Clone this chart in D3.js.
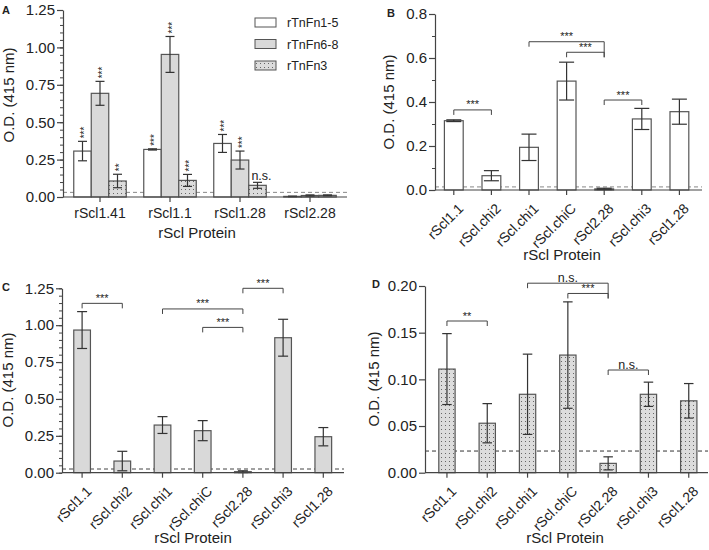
<!DOCTYPE html>
<html>
<head>
<meta charset="utf-8">
<script src="https://cdn.jsdelivr.net/npm/d3@7"></script>
<style>
  body { margin: 0; background: #fff; }
  text { font-family: "Liberation Sans", Arial, sans-serif; fill: #222; }
</style>
</head>
<body>
<script>
// ---- data ----
const groupsA = ["rScl1.41", "rScl1.1", "rScl1.28", "rScl2.28"];
const seriesA = ["rTnFn1-5", "rTnFn6-8", "rTnFn3"];
const meanA = [
  [0.307, 0.318, 0.358, 0.004],
  [0.693, 0.953, 0.247, 0.010],
  [0.107, 0.111, 0.078, 0.011]
];
const errA = [
  [0.065, 0.004, 0.060, 0.002],
  [0.080, 0.120, 0.060, 0.004],
  [0.045, 0.040, 0.020, 0.003]
];
const sigA = [
  ["***", "***", "***", ""],
  ["***", "***", "***", ""],
  ["**", "***", "n.s.", ""]
];
const cutoffA = 0.031;

const proteins = ["rScl1.1", "rScl.chi2", "rScl.chi1", "rScl.chiC", "rScl2.28", "rScl.chi3", "rScl1.28"];

const meanB = [0.315, 0.065, 0.194, 0.495, 0.005, 0.323, 0.356];
const errB = [0.004, 0.023, 0.060, 0.086, 0.003, 0.048, 0.057];
const cutoffB = 0.014;
const bracketsB = [
  ["rScl1.1", "rScl.chi2", 0.364, "***"],
  ["rScl.chi1", "rScl2.28", 0.674, "***"],
  ["rScl.chiC", "rScl2.28", 0.626, "***"],
  ["rScl2.28", "rScl.chi3", 0.409, "***"]
];

const meanC = [0.967, 0.079, 0.323, 0.285, 0.007, 0.915, 0.244];
const errC = [0.125, 0.066, 0.057, 0.068, 0.006, 0.125, 0.062];
const cutoffC = 0.025;
const bracketsC = [
  ["rScl1.1", "rScl.chi2", 1.148, "***"],
  ["rScl.chi1", "rScl2.28", 1.11, "***"],
  ["rScl.chiC", "rScl2.28", 0.985, "***"],
  ["rScl2.28", "rScl.chi3", 1.25, "***"]
];

const meanD = [0.111, 0.053, 0.084, 0.126, 0.010, 0.084, 0.077];
const errD = [0.038, 0.021, 0.043, 0.057, 0.007, 0.013, 0.0185];
const cutoffD = 0.0232;
const bracketsD = [
  ["rScl1.1", "rScl.chi2", 0.1625, "**"],
  ["rScl.chi1", "rScl2.28", 0.203, "n.s."],
  ["rScl.chiC", "rScl2.28", 0.192, "***"],
  ["rScl2.28", "rScl.chi3", 0.11, "n.s."]
];

const ticks025 = [0, 0.25, 0.5, 0.75, 1, 1.25];
const minor005 = d3.range(0, 1.2501, 0.05);
const ticksB = [0, 0.2, 0.4, 0.6, 0.8];
const minorB = d3.range(0, 0.801, 0.1);
const ticksD = [0, 0.05, 0.1, 0.15, 0.2];

// ---- setup ----
const svg = d3.select("body").append("svg").attr("width", 709).attr("height", 550);

const pat = svg.append("defs").append("pattern")
  .attr("id", "dots").attr("width", 4).attr("height", 4)
  .attr("patternUnits", "userSpaceOnUse");
pat.append("rect").attr("width", 4).attr("height", 4).attr("fill", "#dcdcdc");
pat.append("rect").attr("x", 1).attr("y", 1).attr("width", 1).attr("height", 1).attr("fill", "#666");

const fillOf = { "rTnFn1-5": "#fff", "rTnFn6-8": "#d9d9d9", "rTnFn3": "url(#dots)" };
const ink = "#444";

// axes shared by all panels
function drawAxes(g, x, y, o) {
  g.append("g")
    .attr("transform", `translate(${o.left},0)`)
    .call(d3.axisLeft(y).tickValues(o.ticks).tickFormat(d3.format(o.fmt)).tickSize(6).tickSizeOuter(0))
    .call(a => a.attr("font-family", null).attr("font-size", 15))
    .call(a => a.selectAll("path,line").attr("stroke", ink).attr("stroke-width", 1.2))
    .call(a => a.selectAll(".tick text").attr("x", -8));

  if (o.minor) {
    g.append("g")
      .attr("transform", `translate(${o.left},0)`)
      .call(d3.axisLeft(y).tickValues(o.minor).tickFormat("").tickSize(3))
      .call(a => a.select(".domain").remove())
      .call(a => a.selectAll("line").attr("stroke", ink));
  }

  const xa = g.append("g")
    .attr("transform", `translate(0,${y(0)})`)
    .call(d3.axisBottom(x).tickSize(5).tickSizeOuter(0))
    .call(a => a.attr("font-family", null).attr("font-size", 14))
    .call(a => a.select(".domain").remove())
    .call(a => a.selectAll("line").attr("stroke", ink).attr("stroke-width", 1.2));

  if (o.rotate) {
    xa.selectAll(".tick text")
      .attr("x", 0).attr("y", 0).attr("dy", "0.75em")
      .attr("text-anchor", "end")
      .attr("transform", "translate(3,12) rotate(-45)");
  } else {
    xa.selectAll(".tick text").attr("y", 11);
  }

  g.append("line")
    .attr("x1", o.left).attr("x2", o.right)
    .attr("y1", y(0)).attr("y2", y(0))
    .attr("stroke", ink).attr("stroke-width", 1.2);

  g.append("text")
    .attr("x", o.xTitle[0]).attr("y", o.xTitle[1])
    .attr("text-anchor", "middle").attr("font-size", 15)
    .text("rScl Protein");

  g.append("text")
    .attr("transform", `translate(${o.yTitle[0]},${o.yTitle[1]}) rotate(-90)`)
    .attr("text-anchor", "middle").attr("font-size", 15)
    .text("O.D. (415 nm)");

  g.append("text")
    .attr("x", o.tag[0]).attr("y", o.tag[1])
    .attr("font-size", 11).attr("font-weight", "bold")
    .text(o.label);
}

function cutoffLine(g, y, v, o, color) {
  g.append("line")
    .attr("x1", o.left).attr("x2", o.right)
    .attr("y1", y(v)).attr("y2", y(v))
    .attr("stroke", color).attr("stroke-width", 1)
    .attr("stroke-dasharray", "4,3");
}

function errorBars(g, rows, y, cap) {
  const e = g.append("g").attr("stroke", "#333").attr("stroke-width", 1.2);
  rows.forEach(r => {
    e.append("line").attr("x1", r.cx).attr("x2", r.cx).attr("y1", y(r.m - r.e)).attr("y2", y(r.m + r.e));
    e.append("line").attr("x1", r.cx - cap / 2).attr("x2", r.cx + cap / 2).attr("y1", y(r.m + r.e)).attr("y2", y(r.m + r.e));
    e.append("line").attr("x1", r.cx - cap / 2).attr("x2", r.cx + cap / 2).attr("y1", y(r.m - r.e)).attr("y2", y(r.m - r.e));
  });
}

function brackets(g, x, y, list, nest) {
  const cx = k => x(k) + x.bandwidth() / 2;
  list.forEach(b => {
    const x1 = cx(b[0]), x2 = cx(b[1]), yy = y(b[2]);
    let dropR = 5;
    if (nest) {
      const lower = list.find(o => o !== b && o[1] === b[1] && o[2] < b[2]);
      if (lower) dropR = y(lower[2]) + 5 - yy;
    }
    g.append("path")
      .attr("d", `M${x1},${yy + 5}V${yy}H${x2}V${yy + dropR}`)
      .attr("fill", "none").attr("stroke", ink).attr("stroke-width", 1);
    g.append("text")
      .attr("x", (x1 + x2) / 2).attr("y", yy - 1.5)
      .attr("text-anchor", "middle")
      .attr("font-size", b[3] === "n.s." ? 12.5 : 11)
      .text(b[3]);
  });
}

// ---- panel A: grouped bars ----
(function () {
  const o = { left: 63, right: 347, ticks: ticks025, minor: minor005, fmt: ".2f",
    xTitle: [197, 238], yTitle: [14, 95], tag: [2, 14], label: "A" };
  const g = svg.append("g");
  const y = d3.scaleLinear().domain([0, 1.25]).range([197, 10]);
  const x0 = d3.scaleBand().domain(groupsA).range([65, 345]).paddingInner(0.25).paddingOuter(0.125);
  const x1 = d3.scaleBand().domain(seriesA).range([0, x0.bandwidth()]);

  cutoffLine(g, y, cutoffA, o, "#888");

  const rows = [];
  seriesA.forEach((s, si) => {
    groupsA.forEach((grp, gi) => {
      rows.push({ s, grp, m: meanA[si][gi], e: errA[si][gi], sig: sigA[si][gi],
        x: x0(grp) + x1(s), cx: x0(grp) + x1(s) + x1.bandwidth() / 2 });
    });
  });

  g.append("g").selectAll("rect").data(rows).join("rect")
    .attr("x", d => d.x).attr("y", d => y(d.m))
    .attr("width", x1.bandwidth()).attr("height", d => y(0) - y(d.m))
    .attr("fill", d => fillOf[d.s]).attr("stroke", "#555").attr("stroke-width", 1.2);

  errorBars(g, rows, y, 9);
  drawAxes(g, x0, y, o);

  rows.filter(d => d.sig && d.sig !== "n.s.").forEach(d => {
    g.append("text")
      .attr("transform", `translate(${d.cx + 5.5},${y(d.m + d.e) - 3}) rotate(-90)`)
      .attr("font-size", 10).text(d.sig);
  });
  rows.filter(d => d.sig === "n.s.").forEach(d => {
    g.append("text")
      .attr("x", d.cx + 4).attr("y", y(d.m + d.e) - 2)
      .attr("text-anchor", "middle").attr("font-size", 12.5).text(d.sig);
  });

  // legend
  const lg = g.append("g").attr("transform", "translate(255,18)");
  seriesA.forEach((s, i) => {
    lg.append("rect").attr("x", 0).attr("y", i * 21.5).attr("width", 21).attr("height", 9)
      .attr("fill", fillOf[s]).attr("stroke", "#555").attr("stroke-width", 1);
    lg.append("text").attr("x", 32).attr("y", i * 21.5 + 9).attr("font-size", 12.5).text(s);
  });
})();

// ---- panels B, C, D: single series ----
function simplePanel(cfg) {
  const g = svg.append("g");
  const y = d3.scaleLinear().domain([0, cfg.ymax]).range(cfg.yRange);
  const x = d3.scaleBand().domain(proteins).range(cfg.xRange)
    .paddingInner(cfg.pad).paddingOuter(cfg.pad / 2);

  cutoffLine(g, y, cfg.cutoff, cfg, cfg.dash);

  const rows = proteins.map((p, i) => ({ p, m: cfg.mean[i], e: cfg.err[i],
    x: x(p), cx: x(p) + x.bandwidth() / 2 }));

  g.append("g").selectAll("rect").data(rows).join("rect")
    .attr("x", d => d.x).attr("y", d => y(d.m))
    .attr("width", x.bandwidth()).attr("height", d => y(0) - y(d.m))
    .attr("fill", cfg.fill).attr("stroke", "#555").attr("stroke-width", 1.2);

  errorBars(g, rows, y, cfg.cap);
  drawAxes(g, x, y, cfg);
  brackets(g, x, y, cfg.brackets, cfg.nest);
}

simplePanel({ label: "B", tag: [387, 17], left: 435, right: 702, xRange: [435, 698.2], yRange: [190, 14],
  ymax: 0.8, ticks: ticksB, minor: minorB, fmt: ".1f", pad: 0.5, cap: 15, rotate: true,
  mean: meanB, err: errB, cutoff: cutoffB, dash: "#888", fill: "#fff",
  brackets: bracketsB, nest: true, xTitle: [562, 260], yTitle: [393.5, 102] });

simplePanel({ label: "C", tag: [2, 291], left: 62, right: 344, xRange: [62, 343.4], yRange: [472.7, 288.3],
  ymax: 1.25, ticks: ticks025, minor: minor005, fmt: ".2f", pad: 0.585, cap: 10, rotate: true,
  mean: meanC, err: errC, cutoff: cutoffC, dash: "#444", fill: "#d9d9d9",
  brackets: bracketsC, nest: false, xTitle: [193, 543], yTitle: [13, 380] });

simplePanel({ label: "D", tag: [372, 288], left: 425, right: 708, xRange: [426.8, 708.9], yRange: [472.7, 286],
  ymax: 0.2, ticks: ticksD, minor: null, fmt: ".2f", pad: 0.595, cap: 9.5, rotate: true,
  mean: meanD, err: errD, cutoff: cutoffD, dash: "#333", fill: "url(#dots)",
  brackets: bracketsD, nest: true, xTitle: [565, 543], yTitle: [379, 379] });
</script>
</body>
</html>
